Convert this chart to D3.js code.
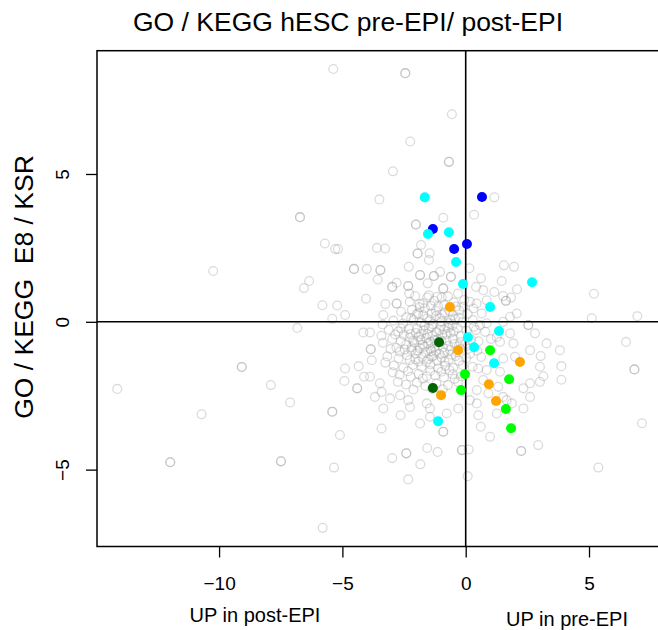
<!DOCTYPE html>
<html>
<head>
<meta charset="utf-8">
<script src="https://cdn.jsdelivr.net/npm/d3@7"></script>
<style>
  body { margin: 0; background: #fff; }
  svg { display: block; font-family: "Liberation Sans", Arial, Helvetica, sans-serif; }
</style>
</head>
<body>
<svg id="chart" width="658" height="630"></svg>
<script>

// texts
const titleText = 'GO / KEGG hESC pre-EPI/ post-EPI';
const yLabelText = 'GO / KEGG  E8 / KSR';
const xNoteLeft = 'UP in post-EPI';
const xNoteRight = 'UP in pre-EPI';

const xTicks = [-10, -5, 0, 5];
const yTicks = [-5, 0, 5];

// gray GO / KEGG terms, outer points (repeated pairs = overlapping terms)
const outerPoints = [
  [-5.37, 8.55], [-6.72, 3.54], [-6.72, 3.54], [-5.71, 2.65], [-5.29, 2.46], [-10.24, 1.72],
  [-6.35, 1.38], [-6.56, 1.14], [-2.45, 8.41], [-2.45, 8.41], [-0.56, 7.02], [-2.25, 6.10],
  [-0.68, 5.41], [-0.68, 5.41], [-2.95, 5.09], [-3.50, 4.14], [1.16, 4.21], [0.34, 3.62],
  [-0.91, 3.52], [-2.02, 3.29], [-2.02, 3.29], [-5.18, 2.46], [-3.60, 2.50], [-3.27, 2.48],
  [-1.81, 2.60], [-1.95, 2.31], [-1.95, 2.31], [-1.46, 2.32], [-1.49, 2.09], [-4.53, 1.79],
  [-4.53, 1.79], [-4.01, 1.79], [-3.46, 1.75], [-3.46, 1.75], [-2.31, 1.86], [-3.57, 1.43],
  [-1.85, 1.58], [-1.85, 1.58], [-1.29, 1.55], [-1.29, 1.55], [-1.04, 1.69], [-0.60, 1.52],
  [-0.60, 1.52], [0.15, 1.81], [0.62, 1.47], [1.55, 1.91], [1.96, 1.86], [1.46, 1.38],
  [2.08, 1.10], [-1.54, 1.30], [-0.91, 1.13], [-0.91, 1.13], [-2.98, 1.18], [-2.98, 1.18],
  [-2.80, 1.32], [-2.33, 1.21], [-2.33, 1.21], [-2.29, 0.96], [-2.80, 0.62], [-2.80, 0.62],
  [-4.04, 0.78], [-5.21, 0.55], [-3.26, 0.60], [-1.87, 0.60], [-1.50, 0.90], [-1.15, 0.85],
  [-0.31, 0.96], [0.42, 1.18], [0.71, 1.07], [1.16, 1.01], [1.52, 0.87], [1.84, 0.82],
  [1.63, 0.71], [1.63, 0.71], [0.85, 0.73], [0.17, 0.68], [-0.10, 0.51], [0.31, 0.45],
  [-0.97, 0.82], [-1.41, 0.54],
  [-4.89, 0.23], [-3.34, 0.23], [-4.15, -0.36], [-3.88, -0.36], [-3.85, -0.93], [-3.85, -0.93],
  [-4.89, -1.58], [-4.34, -1.50], [-3.81, -1.30], [-4.92, -2.00], [-4.40, -2.25], [-4.40, -2.25],
  [-4.12, -1.86], [-3.88, -1.86], [-3.48, -2.08], [-3.41, -2.37], [-3.68, -2.54], [-3.07, -2.59],
  [-3.34, -2.93], [-5.41, -3.04], [-5.41, -3.04], [-5.10, -3.83], [-3.41, -3.61], [-2.64, -3.16],
  [-2.26, -2.88], [-2.66, -2.48], [-2.33, -2.65], [-1.85, -3.44], [-1.45, -3.21], [-1.45, -2.93],
  [-1.58, -2.76], [-0.77, -3.10], [-0.91, -3.72], [-0.91, -3.72], [-0.30, -2.93], [0.51, -3.16],
  [0.61, -3.55], [0.99, -3.89], [1.26, -3.10], [1.66, -2.65], [1.87, -2.76], [2.34, -2.93],
  [2.61, -2.54], [2.94, -4.17], [2.34, -2.25], [2.61, -2.08], [3.01, -2.03], [3.01, -1.52],
  [3.28, -0.73], [2.81, -0.39], [2.54, -0.11], [2.54, -0.11], [2.61, -0.96], [3.04, -1.16],
  [2.07, 0.28], [1.80, 0.17], [1.93, -0.73], [2.00, -1.18], [1.80, -0.39], [1.39, -0.68],
  [1.52, -1.24], [1.39, -1.69], [0.85, -1.63], [0.51, -1.58], [0.71, -1.97], [0.45, -2.31],
  [0.92, -2.42], [0.17, -2.65], [0.45, -2.76], [1.32, -2.20], [1.52, -2.54],
  [0.65, 0.28], [0.85, -0.05], [1.52, 0.00], [1.26, -0.51],
  [-5.81, 0.56], [-5.41, 0.10], [-6.83, -0.21], [-9.08, -1.53], [-9.08, -1.53], [-14.13, -2.27],
  [-7.90, -2.14], [-7.12, -2.73], [-10.71, -3.13], [-11.98, -4.75], [-11.98, -4.75],
  [-7.49, -4.72], [-7.49, -4.72], [-5.34, -4.93], [-5.80, -6.97],
  [5.20, 0.95], [5.11, 0.12], [6.96, 0.19], [3.82, -0.96], [6.50, -0.68], [3.88, -1.50],
  [3.15, -1.84], [3.88, -1.96], [6.84, -1.61], [6.84, -1.61], [7.15, -3.43], [5.38, -4.93],
  [-2.98, -4.61], [-2.41, -4.45], [-2.41, -4.45], [-1.84, -4.82], [-1.56, -4.27], [-1.14, -4.40],
  [-2.33, -5.33], [-0.15, -4.34], [-0.15, -4.34], [0.12, -4.32], [0.08, -5.22], [2.25, -4.37],
  [2.25, -4.37]
];

// gray terms, dense core around the origin
const corePoints = [
  [-2.62, 0.34], [-2.18, 0.41], [-1.93, 0.28], [-1.66, 0.46], [-1.21, 0.37], [-0.84, 0.31],
  [-0.52, 0.22], [-0.27, 0.39], [0.08, 0.27], [-1.04, 0.12], [-2.41, 0.15],
  [-2.93, 0.04], [-2.54, -0.06], [-2.12, 0.07], [-1.81, -0.03], [-1.57, 0.11], [-1.33, -0.08],
  [-0.98, 0.02], [-0.71, -0.05], [-0.43, 0.09], [-0.14, -0.02], [0.29, 0.06], [0.58, -0.11],
  [-3.37, -0.09],
  [-3.12, -0.27], [-2.74, -0.33], [-2.31, -0.24], [-2.02, -0.38], [-1.72, -0.29], [-1.49, -0.22],
  [-1.18, -0.35], [-0.88, -0.26], [-0.61, -0.37], [-0.33, -0.21], [0.03, -0.31], [0.41, -0.28],
  [0.79, -0.34], [-2.51, -0.44], [-1.35, -0.47],
  [-2.98, -0.58], [-2.63, -0.66], [-2.27, -0.54], [-2.08, -0.71], [-1.83, -0.62], [-1.61, -0.55],
  [-1.42, -0.68], [-1.14, -0.59], [-0.79, -0.63], [-0.52, -0.57], [-0.22, -0.69], [0.23, -0.61],
  [0.52, -0.66], [1.02, -0.58], [-3.36, -0.71],
  [-2.81, -0.88], [-2.47, -0.94], [-2.19, -0.86], [-1.94, -0.97], [-1.68, -0.84], [-1.43, -0.92],
  [-1.21, -0.99], [-0.92, -0.87], [-0.63, -0.95], [-0.28, -0.83], [0.12, -0.91], [0.47, -0.98],
  [-2.02, -1.07], [-1.06, -1.09],
  [-3.18, -1.17], [-2.72, -1.24], [-2.38, -1.13], [-2.04, -1.27], [-1.77, -1.19], [-1.52, -1.26],
  [-1.29, -1.14], [-0.98, -1.21], [-0.69, -1.28], [-0.41, -1.16], [0.02, -1.23], [0.63, -1.19],
  [-2.91, -1.48], [-2.53, -1.55], [-2.14, -1.46], [-1.79, -1.53], [-1.43, -1.44], [-1.12, -1.57],
  [-0.83, -1.49], [-0.51, -1.56], [-0.12, -1.47], [0.28, -1.52],
  [-2.68, -1.79], [-2.23, -1.86], [-1.91, -1.76], [-1.58, -1.84], [-1.24, -1.81], [-0.88, -1.88],
  [-0.53, -1.77], [-0.19, -1.85],
  [-2.42, -2.12], [-1.98, -2.06], [-1.63, -2.17], [-1.19, -2.09], [-0.72, -2.14], [-0.31, -2.04],
  [-2.27, 0.68], [-1.72, 0.63], [-1.28, 0.71], [-0.87, 0.58], [-0.48, 0.66], [-0.06, 0.74],
  [0.44, 0.62],
  [-1.55, -0.41], [-1.25, -0.62], [-0.95, -0.45], [-1.75, -0.78], [-1.10, -0.80], [-0.70, -0.20],
  [-1.90, -0.50], [-1.40, -1.00], [-0.45, -0.75], [-2.20, -0.95], [-1.60, -1.35], [-0.85, -1.35],
  [-1.20, 0.20], [-0.60, 0.05], [-2.00, 0.25], [-1.45, 0.05],
  // densest part, second layer
  [-1.38, -0.16], [-1.07, -0.28], [-0.77, -0.41], [-1.66, -0.12], [-1.97, -0.24], [-2.24, -0.41],
  [-0.49, -0.33], [-0.19, -0.48], [-1.52, -0.73], [-1.27, -0.84], [-0.99, -0.66], [-0.71, -0.82],
  [-1.86, -0.89], [-2.13, -0.63], [-2.41, -0.77], [-0.36, -1.02], [-0.58, -1.11], [-0.86, -1.04],
  [-1.16, -1.32], [-1.37, -1.18], [-1.63, -1.03], [-1.91, -1.34], [-2.27, -1.29], [-0.27, -1.32],
  [-0.03, -0.77], [0.18, -1.08], [-1.72, 0.22], [-1.39, 0.28], [-0.96, 0.24], [-0.66, 0.37],
  [-2.21, 0.12], [-1.87, 0.49], [-1.01, -0.13], [-0.53, -0.12], [-0.29, 0.14], [-1.81, -0.42],
  [-2.62, -0.22], [-2.86, -0.43], [-2.67, -1.01], [-2.34, -1.67], [-1.44, -1.66], [-0.99, -1.69],
  [-0.66, -1.64], [-1.74, -1.92], [-1.36, -2.27], [-0.93, -2.28], [-2.12, -2.29], [-0.45, -1.93],
  [-1.12, 0.52], [-0.39, 0.52], [-1.56, 0.82], [-2.05, 0.87], [-0.72, 0.86], [-0.21, -0.92],
  [0.33, -0.17], [-3.05, -0.92], [-3.42, -0.47], [-3.26, -1.38], [-2.96, -1.71], [-2.75, -2.03]
];

// highlighted terms
const bluePoints = [[-1.33, 3.14], [0.66, 4.22], [-0.47, 2.46], [0.05, 2.63]];
const cyanPoints = [
  [-1.66, 4.21], [-1.53, 2.97], [-0.68, 3.03], [-0.39, 2.02], [-0.11, 1.28], [2.69, 1.34],
  [0.99, 0.50], [1.35, -0.31], [0.09, -0.52], [0.34, -0.86], [1.15, -1.40], [-1.12, -3.36]
];
const orangePoints = [[-0.64, 0.50], [-0.31, -0.96], [2.20, -1.36], [0.94, -2.11], [-1.00, -2.48], [1.23, -2.68]];
const greenPoints = [[0.99, -0.96], [-0.03, -1.77], [1.76, -1.94], [-0.19, -2.31], [1.63, -2.95], [1.84, -3.60]];
const darkGreenPoints = [[-1.08, -0.69], [-1.33, -2.24]];

const groups = [
  { pts: bluePoints, color: '#0000ff' },
  { pts: cyanPoints, color: '#00ffff' },
  { pts: orangePoints, color: '#ffa500' },
  { pts: greenPoints, color: '#00ff00' },
  { pts: darkGreenPoints, color: '#006400' }
];

const svg = d3.select('#chart');

// plot region (right edge sits just outside the picture)
const plotLeft = 97, plotRight = 663, plotTop = 50.7, plotBottom = 546.5;

const x = d3.scaleLinear().domain([-14.95, 8.0]).range([plotLeft, plotRight]);
const y = d3.scaleLinear().domain([-7.6, 9.17]).range([plotBottom, plotTop]);

// gray open circles
svg.append('g')
  .selectAll('circle')
  .data(outerPoints.concat(corePoints))
  .join('circle')
  .attr('cx', d => x(d[0]))
  .attr('cy', d => y(d[1]))
  .attr('r', 4.4)
  .attr('fill', 'none')
  .attr('stroke', '#9a9a9a')
  .attr('stroke-opacity', 0.36)
  .attr('stroke-width', 1.3);

// zero lines
svg.append('line')
  .attr('x1', x(0)).attr('x2', x(0)).attr('y1', plotTop).attr('y2', plotBottom)
  .attr('stroke', '#000').attr('stroke-width', 1.6);
svg.append('line')
  .attr('x1', plotLeft).attr('x2', plotRight).attr('y1', y(0)).attr('y2', y(0))
  .attr('stroke', '#000').attr('stroke-width', 1.6);

// coloured terms
groups.forEach(g => {
  svg.append('g')
    .selectAll('circle')
    .data(g.pts)
    .join('circle')
    .attr('cx', d => x(d[0]))
    .attr('cy', d => y(d[1]))
    .attr('r', 5)
    .attr('fill', g.color);
});

// box
svg.append('rect')
  .attr('x', plotLeft).attr('y', plotTop)
  .attr('width', plotRight - plotLeft).attr('height', plotBottom - plotTop)
  .attr('fill', 'none').attr('stroke', '#000').attr('stroke-width', 1.5);

// x axis
const xAxis = svg.append('g')
  .attr('transform', `translate(0,${plotBottom})`)
  .call(d3.axisBottom(x).tickValues(xTicks).tickSize(11).tickPadding(19));
xAxis.select('.domain').remove();
xAxis.selectAll('line').attr('stroke', '#000').attr('stroke-width', 1.3);
xAxis.selectAll('text')
  .attr('fill', '#000')
  .style('font-size', '19px')
  .style('font-family', '"Liberation Sans", Arial, sans-serif');

// y axis, labels parallel to the axis
const yAxis = svg.append('g')
  .attr('transform', `translate(${plotLeft},0)`)
  .call(d3.axisLeft(y).tickValues(yTicks).tickSize(11));
yAxis.select('.domain').remove();
yAxis.selectAll('line').attr('stroke', '#000').attr('stroke-width', 1.3);
yAxis.selectAll('text')
  .attr('x', null)
  .attr('dy', '0.35em')
  .attr('text-anchor', 'middle')
  .attr('transform', 'translate(-35,0) rotate(-90)')
  .attr('fill', '#000')
  .style('font-size', '19px')
  .style('font-family', '"Liberation Sans", Arial, sans-serif');

// title and labels
svg.append('text')
  .attr('x', 348).attr('y', 31)
  .attr('text-anchor', 'middle')
  .style('font-size', '26.5px')
  .text(titleText);

svg.append('text')
  .attr('transform', 'translate(24,287) rotate(-90)')
  .attr('dy', '0.35em')
  .attr('text-anchor', 'middle')
  .style('font-size', '26.5px')
  .style('white-space', 'pre')
  .text(yLabelText);

svg.append('text')
  .attr('x', 255).attr('y', 622)
  .attr('text-anchor', 'middle')
  .style('font-size', '20px')
  .text(xNoteLeft);

svg.append('text')
  .attr('x', 567).attr('y', 626)
  .attr('text-anchor', 'middle')
  .style('font-size', '20px')
  .text(xNoteRight);
</script>
</body>
</html>
